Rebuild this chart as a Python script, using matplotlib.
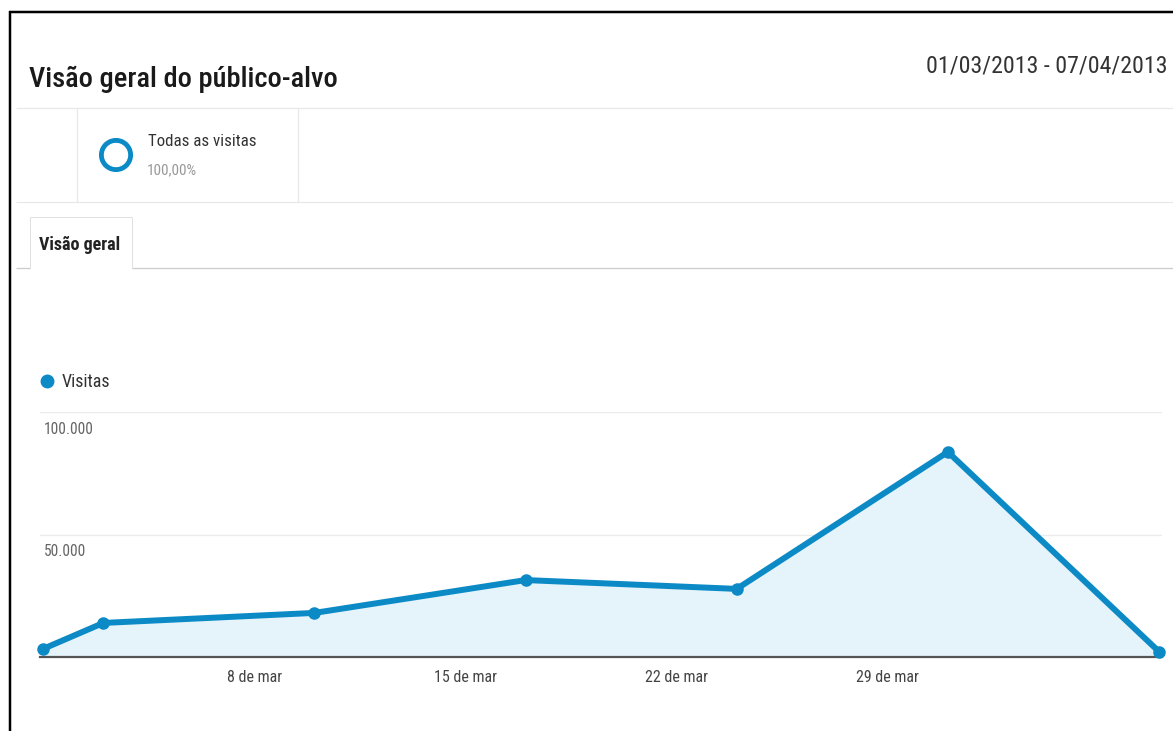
import numpy as np
import matplotlib
matplotlib.use("Agg")
import matplotlib.pyplot as plt
import matplotlib.dates as mdates
from matplotlib.lines import Line2D

plt.rcParams['font.family'] = ['Roboto Condensed', 'DejaVu Sans']

# visitas por semana (01/03/2013 - 07/04/2013)
datas = np.array(['2013-03-01', '2013-03-03', '2013-03-10', '2013-03-17',
                  '2013-03-24', '2013-03-31', '2013-04-07'], dtype='datetime64[D]')
visitas = [3300, 13900, 18000, 31400, 27800, 83700, 2200]

marcas = np.array(['2013-03-08', '2013-03-15', '2013-03-22', '2013-03-29'], dtype='datetime64[D]')
marcas_txt = ['8 de mar', '15 de mar', '22 de mar', '29 de mar']
niveis = [50000, 100000]

W, H = 1173, 731
AZUL = '#0b8ac6'

fig = plt.figure(figsize=(W / 100, H / 100), dpi=100)
fig.patch.set_facecolor('white')


def fx(px):
    return px / W


def fy(py):
    return 1 - py / H


def linha(x0, y0, x1, y1, cor, lw):
    fig.add_artist(Line2D([fx(x0), fx(x1)], [fy(y0), fy(y1)], color=cor,
                          lw=lw * 0.72, transform=fig.transFigure, solid_capstyle='butt'))


# moldura
linha(9.5, 11, 9.5, H, 'black', 2.5)
linha(8.5, 11.5, W, 11.5, 'black', 2.5)

# cabeçalho
fig.text(fx(29), fy(79), 'Visão geral do público-alvo', fontsize=20.5, weight=500,
         color='#1a1a1a', va='center', ha='left')
fig.text(fx(1168), fy(66), '01/03/2013 - 07/04/2013', fontsize=17.2,
         color='#333333', va='center', ha='right')

# segmento
linha(16, 108, W, 108, '#e8e8e8', 1.2)
linha(16, 202, W, 202, '#e8e8e8', 1.2)
linha(77, 108, 77, 202, '#e8e8e8', 1.2)
linha(298, 108, 298, 202, '#e8e8e8', 1.2)

ax_seg = fig.add_axes([fx(94), fy(177), fx(44), 44 / H])
ax_seg.pie([100], colors=[AZUL], startangle=0, counterclock=False,
           wedgeprops=dict(width=0.34, edgecolor='white', linewidth=0.8))
ax_seg.set_aspect('equal')
fig.text(fx(148), fy(142), 'Todas as visitas', fontsize=12.2, color='#333333', va='center')
fig.text(fx(147), fy(170), '100,00%', fontsize=11, color='#999999', va='center')

# aba
linha(16, 268, 30, 268, '#cccccc', 1.3)
linha(132, 268, W, 268, '#cccccc', 1.3)
linha(30, 217, 132, 217, '#e0e0e0', 1)
linha(30, 217, 30, 268, '#e0e0e0', 1)
linha(132, 217, 132, 268, '#e0e0e0', 1)
fig.text(fx(39), fy(245), 'Visão geral', fontsize=13, weight='bold', color='#222222', va='center')

# legenda
fig.add_artist(Line2D([fx(47)], [fy(381)], marker='o', markersize=9, color=AZUL,
                      transform=fig.transFigure))
fig.text(fx(62), fy(382), 'Visitas', fontsize=13, color='#333333', va='center')

# gráfico
ax = fig.add_axes([fx(40), fy(657), fx(1162 - 40), (657 - 412) / H])
xs = mdates.date2num(datas)
pad = 3 / 30.16
ax.set_xlim(xs[0] - pad, xs[-1] + pad)
ax.set_ylim(0, 100000)

ax.fill_between(datas, visitas, 0, color='#e5f3fa', zorder=1)
ax.plot(datas, visitas, color=AZUL, lw=4.3, marker='o', markersize=8,
        zorder=3, clip_on=False, solid_joinstyle='round')

for v in niveis:
    ax.axhline(v, color='#ebebeb', lw=1, zorder=0)
    ax.annotate(f'{v:,}'.replace(',', '.'), xy=(0, v), xycoords=ax.get_yaxis_transform(),
                xytext=(3, -7), textcoords='offset points', va='top', ha='left',
                fontsize=11.2, color='#666666')

for s in ['top', 'right', 'left']:
    ax.spines[s].set_visible(False)
ax.spines['bottom'].set_color('#555555')
ax.spines['bottom'].set_linewidth(1.6)
ax.spines['bottom'].set_zorder(2)

ax.set_yticks([])
ax.set_xticks(mdates.date2num(marcas))
ax.set_xticklabels(marcas_txt, fontsize=11.5, color='#444444')
ax.tick_params(axis='x', length=0, pad=9)
ax.patch.set_alpha(0)

fig.savefig('out.png', dpi=100)
